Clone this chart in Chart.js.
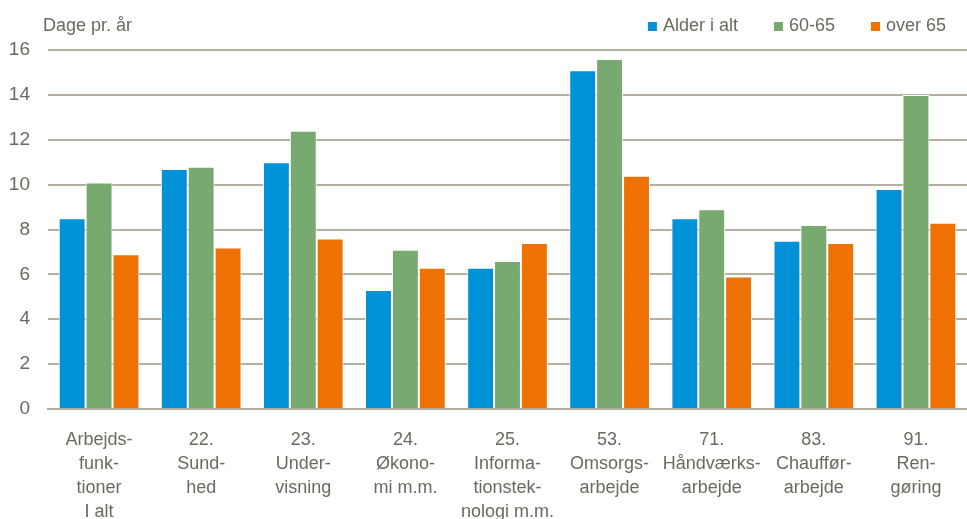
<!DOCTYPE html>
<html>
<head>
<meta charset="utf-8">
<script src="https://cdn.jsdelivr.net/npm/chart.js@4/dist/chart.umd.min.js"></script>
<style>
  body { margin: 0; background: #fff; }
  #wrap { width: 967px; height: 519px; position: relative; }
</style>
</head>
<body>
<div id="wrap"><canvas id="chart"></canvas></div>
<script>
const categories = [
  ['Arbejds-', 'funk-', 'tioner', 'I alt'],
  ['22.', 'Sund-', 'hed'],
  ['23.', 'Under-', 'visning'],
  ['24.', 'Økono-', 'mi m.m.'],
  ['25.', 'Informa-', 'tionstek-', 'nologi m.m.'],
  ['53.', 'Omsorgs-', 'arbejde'],
  ['71.', 'Håndværks-', 'arbejde'],
  ['83.', 'Chauffør-', 'arbejde'],
  ['91.', 'Ren-', 'gøring']
];
const alderIAlt = [8.5, 10.7, 11.0, 5.3, 6.3, 15.1, 8.5, 7.5, 9.8];
const age6065 = [10.1, 10.8, 12.4, 7.1, 6.6, 15.6, 8.9, 8.2, 14.0];
const over65 = [6.9, 7.2, 7.6, 6.3, 7.4, 10.4, 5.9, 7.4, 8.3];
const yTicks = [0, 2, 4, 6, 8, 10, 12, 14, 16];

const textColor = '#6b6a5e';
const gridColor = '#b3afa1';
const fontFamily = '"Liberation Sans Narrow", "Liberation Sans", Arial, sans-serif';

// unit label above the y axis + legend in the top right corner
const headerPlugin = {
  id: 'header',
  afterDraw(chart) {
    const ctx = chart.ctx;
    ctx.save();
    ctx.font = '18px ' + fontFamily;
    ctx.fillStyle = textColor;
    ctx.textBaseline = 'middle';
    ctx.fillText('Dage pr. år', 43, 26);

    // legend, laid out from the right
    const sets = chart.data.datasets;
    let x = 946;
    const items = [];
    for (let i = sets.length - 1; i >= 0; i--) {
      const w = ctx.measureText(sets[i].label).width;
      const textX = x - w;
      items.push({ set: sets[i], textX: textX, boxX: textX - 15 });
      x = textX - 15 - 36;
    }
    items.forEach(it => {
      ctx.fillStyle = it.set.backgroundColor;
      ctx.fillRect(it.boxX, 22, 9, 9);
      ctx.fillStyle = textColor;
      ctx.fillText(it.set.label, it.textX, 26);
    });
    ctx.restore();
  }
};

const ctx = document.getElementById('chart').getContext('2d');
new Chart(ctx, {
  type: 'bar',
  data: {
    labels: categories,
    datasets: [
      { label: 'Alder i alt', data: alderIAlt, backgroundColor: '#0091d6' },
      { label: '60-65', data: age6065, backgroundColor: '#78a96f' },
      { label: 'over 65', data: over65, backgroundColor: '#ee7203' }
    ].map(d => Object.assign(d, {
      borderColor: '#ffffff',
      borderWidth: 1,
      categoryPercentage: 0.79,
      barPercentage: 1
    }))
  },
  options: {
    responsive: true,
    maintainAspectRatio: false,
    animation: false,
    layout: { padding: { left: 0, right: 0, top: 50, bottom: 0 } },
    plugins: {
      legend: { display: false },
      tooltip: { enabled: false }
    },
    scales: {
      x: {
        grid: { display: false, drawTicks: false },
        border: { color: gridColor, width: 2 },
        afterFit(scale) { scale.height = 110; },
        ticks: {
          color: textColor,
          maxRotation: 0,
          autoSkip: false,
          padding: 19,
          font: { size: 18, family: fontFamily, lineHeight: 1.33 }
        }
      },
      y: {
        min: 0,
        max: 16,
        afterBuildTicks(axis) { axis.ticks = yTicks.map(v => ({ value: v })); },
        afterFit(scale) { scale.width = 48; },
        grid: { color: gridColor, lineWidth: 2, drawTicks: false },
        border: { display: false },
        ticks: {
          color: textColor,
          padding: 18,
          font: { size: 19, family: fontFamily }
        }
      }
    }
  },
  plugins: [headerPlugin]
});
</script>
</body>
</html>
